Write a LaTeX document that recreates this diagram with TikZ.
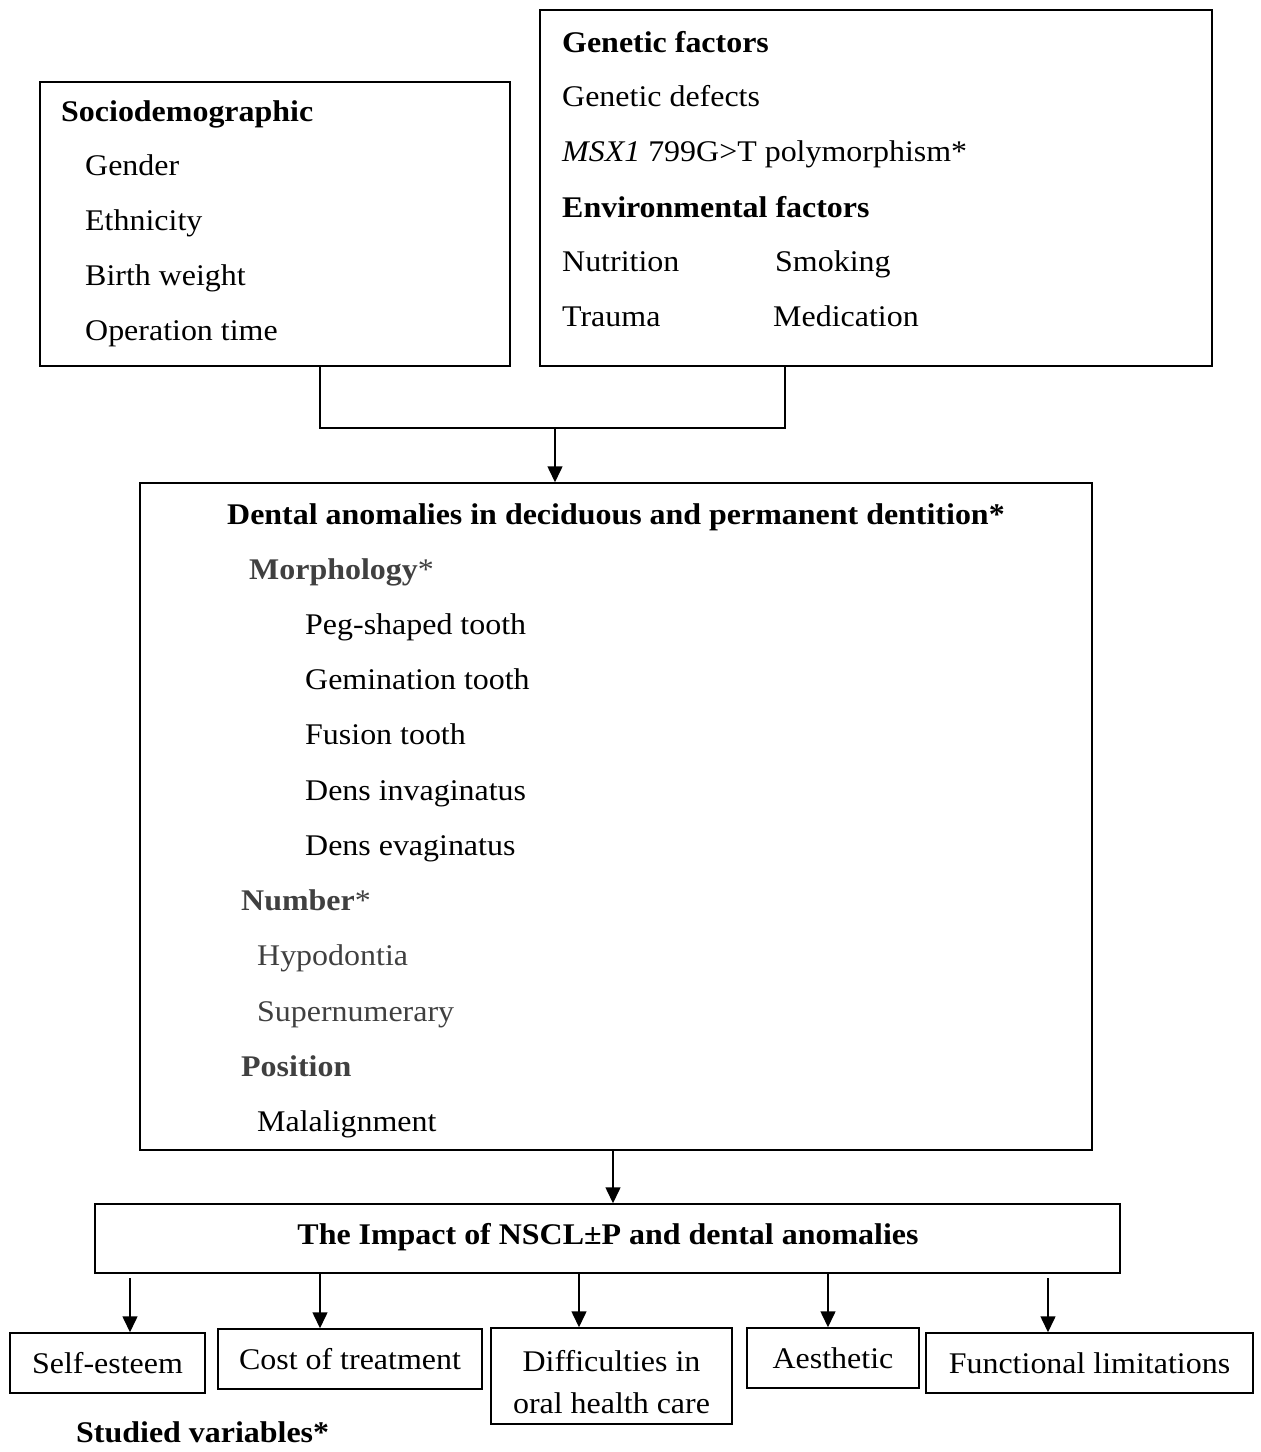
\documentclass[tikz,border=0pt]{standalone}
\usepackage{fontspec}
\setmainfont{Liberation Serif}[FakeStretch=1.065]
\usetikzlibrary{arrows.meta,calc}
\definecolor{txtgray}{RGB}{64,64,64}
\begin{document}
\begin{tikzpicture}[x=1pt,y=-1pt,
  box/.style={draw,line width=1.5pt,inner sep=0pt,align=center,font=\fontsize{30}{42}\selectfont},
  txt/.style={anchor=base west,inner sep=0pt,font=\fontsize{30}{36}\selectfont},
  gtxt/.style={txt,text=txtgray},
  conn/.style={line width=1.5pt},
  arr/.style={line width=1.5pt,-{Triangle[length=16pt,width=15pt]}}
]
\useasboundingbox (0,0) rectangle (1261,1452);
% boxes
\node[box,minimum width=470pt,minimum height=284pt] (socio) at (275,224) {};
\node[box,minimum width=672pt,minimum height=356pt] (gen) at (876,188) {};
\node[box,minimum width=952pt,minimum height=667pt] (dental) at (616,816.5) {};
\node[box,minimum width=1025pt,minimum height=69pt] (impact) at (607.5,1238.5) {};
\node[box,minimum width=195pt,minimum height=60pt] (self) at (107.5,1363) {Self-esteem};
\node[box,minimum width=264pt,minimum height=60pt] (cost) at (350,1359) {Cost of treatment};
\node[box,minimum width=241pt,minimum height=96pt] (diff) at (611.5,1376) {};
\node[txt,anchor=center,align=center,font=\fontsize{30}{42}\selectfont] (difft) at (611.5,1382) {Difficulties in\\oral health care};
\node[box,minimum width=172pt,minimum height=60pt] (aes) at (833,1358) {Aesthetic};
\node[box,minimum width=327pt,minimum height=60pt] (func) at (1089.5,1363) {Functional limitations};
% sociodemographic
\node[txt] (s0) at (61,121) {\textbf{Sociodemographic}};
\node[txt] (s1) at (85,175) {Gender};
\node[txt] (s2) at (85,230) {Ethnicity};
\node[txt] (s3) at (85,285) {Birth weight};
\node[txt] (s4) at (85,340) {Operation time};
% genetic
\node[txt] (g0) at (562,52) {\textbf{Genetic factors}};
\node[txt] (g1) at (562,106) {Genetic defects};
\node[txt] (g2) at (562,161) {\textit{MSX1} 799G>T polymorphism*};
\node[txt] (g3) at (562,217) {\textbf{Environmental factors}};
\node[txt] (g4) at (562,271) {Nutrition};
\node[txt] (g5) at (775,271) {Smoking};
\node[txt] (g6) at (562,326) {Trauma};
\node[txt] (g7) at (773,326) {Medication};
% dental
\node[txt,anchor=base] (d0) at (616,524) {\textbf{Dental anomalies in deciduous and permanent dentition*}};
\node[gtxt] (d1) at (249,579) {\textbf{Morphology}*};
\node[txt] (d2) at (305,634) {Peg-shaped tooth};
\node[txt] (d3) at (305,689) {Gemination tooth};
\node[txt] (d4) at (305,744) {Fusion tooth};
\node[txt] (d5) at (305,800) {Dens invaginatus};
\node[txt] (d6) at (305,855) {Dens evaginatus};
\node[gtxt] (d7) at (241,910) {\textbf{Number}*};
\node[gtxt] (d8) at (257,965) {Hypodontia};
\node[gtxt] (d9) at (257,1021) {Supernumerary};
\node[gtxt] (d10) at (241,1076) {\textbf{Position}};
\node[txt] (d11) at (257,1131) {Malalignment};
% impact
\node[txt,anchor=base] (i0) at (608,1244) {\textbf{The Impact of NSCL±P and dental anomalies}};
\node[txt] (sv) at (76,1442) {\textbf{Studied variables*}};
% connectors
\coordinate (j) at (555,428);
\draw[conn] ([xshift=45pt]socio.south) |- (j) -| ([xshift=-91pt]gen.south);
\draw[arr] (j) -- (j |- dental.north);
\coordinate (k) at (613,1150);
\draw[arr] (k) -- (k |- impact.north);
\coordinate (a1) at (130,1278);
\coordinate (a2) at (320,1273);
\coordinate (a3) at (579,1273);
\coordinate (a4) at (828,1273);
\coordinate (a5) at (1048,1278);
\draw[arr] (a1) -- (a1 |- self.north);
\draw[arr] (a2) -- (a2 |- cost.north);
\draw[arr] (a3) -- (a3 |- diff.north);
\draw[arr] (a4) -- (a4 |- aes.north);
\draw[arr] (a5) -- (a5 |- func.north);
\end{tikzpicture}
\end{document}
